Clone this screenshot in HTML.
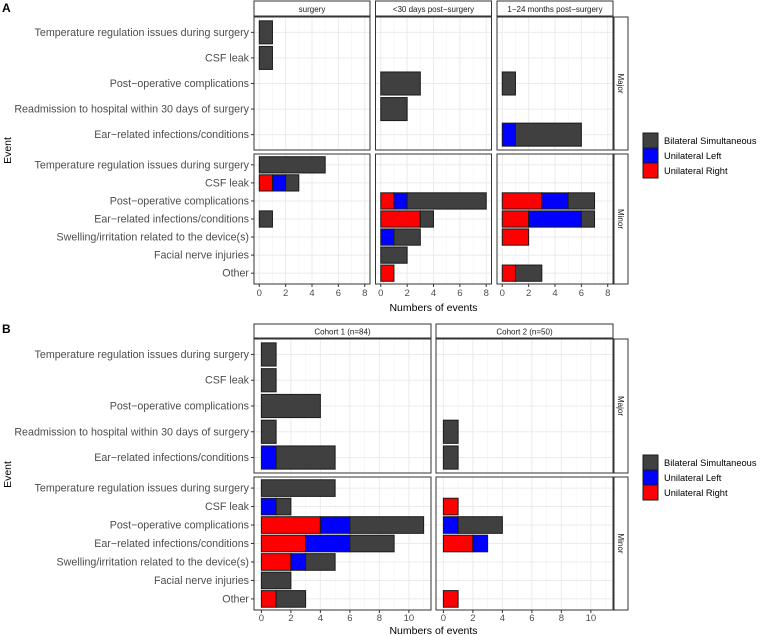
<!DOCTYPE html>
<html><head><meta charset="utf-8"><style>
body{margin:0;background:#fff}
svg{font-family:"Liberation Sans",sans-serif;display:block}
</style></head><body>
<svg id="chart" width="762" height="636" viewBox="0 0 762 636" xmlns="http://www.w3.org/2000/svg"></svg>
<script>
const majorEvents = ["Temperature regulation issues during surgery","CSF leak","Post\u2212operative complications","Readmission to hospital within 30 days of surgery","Ear\u2212related infections/conditions"];
const minorEvents = ["Temperature regulation issues during surgery","CSF leak","Post\u2212operative complications","Ear\u2212related infections/conditions","Swelling/irritation related to the device(s)","Facial nerve injuries","Other"];
const seriesNames = ["Bilateral Simultaneous","Unilateral Left","Unilateral Right"];
const seriesColors = ["#404040","#0000ff","#ff0000"];
const panelsA = ["surgery","<30 days post\u2212surgery","1\u221224 months post\u2212surgery"];
const panelsB = ["Cohort 1 (n=84)","Cohort 2 (n=50)"];
const ticksA = [0,2,4,6,8];
const ticksB = [0,2,4,6,8,10];
// each entry: [right, left, bilateral]
const majorA = [
  [[0,0,1],[0,0,1],[0,0,0],[0,0,0],[0,0,0]],
  [[0,0,0],[0,0,0],[0,0,3],[0,0,2],[0,0,0]],
  [[0,0,0],[0,0,0],[0,0,1],[0,0,0],[0,1,5]]
];
const minorA = [
  [[0,0,5],[1,1,1],[0,0,0],[0,0,1],[0,0,0],[0,0,0],[0,0,0]],
  [[0,0,0],[0,0,0],[1,1,6],[3,0,1],[0,1,2],[0,0,2],[1,0,0]],
  [[0,0,0],[0,0,0],[3,2,2],[2,4,1],[2,0,0],[0,0,0],[1,0,2]]
];
const majorB = [
  [[0,0,1],[0,0,1],[0,0,4],[0,0,1],[0,1,4]],
  [[0,0,0],[0,0,0],[0,0,0],[0,0,1],[0,0,1]]
];
const minorB = [
  [[0,0,5],[0,1,1],[4,2,5],[3,3,3],[2,1,2],[0,0,2],[1,0,2]],
  [[0,0,0],[1,0,0],[0,1,3],[2,1,0],[0,0,0],[0,0,0],[1,0,0]]
];

const svg = document.getElementById('chart');
const NS = "http://www.w3.org/2000/svg";
function mk(tag, attrs, parent){const e=document.createElementNS(NS,tag);for(const k in attrs)e.setAttribute(k,attrs[k]);(parent||svg).appendChild(e);return e;}
function txt(s, attrs){const e=mk('text',attrs);e.textContent=s;return e;}

function drawFigure(cfg){
  const {panels, ticks, xmin, xmax, px, pw, majorTop, majorBot, minorTop, minorBot, stripTop, majorData, minorData, xtickY, titleY, legendTop, prefix} = cfg;
  const rows = [[majorEvents, majorTop, majorBot, majorData, "Major"],[minorEvents, minorTop, minorBot, minorData, "Minor"]];
  panels.forEach((pn, pi) => {
    const x0 = px[pi];
    const sx = v => x0 + (v - xmin) / (xmax - xmin) * pw;
    const s = mk('rect',{x:x0,y:stripTop,width:pw,height:majorTop-stripTop-1,fill:'#fff',stroke:'#333','stroke-width':1});
    
    
    const st = txt(pn,{x:x0+pw/2,y:(stripTop+majorTop)/2+3,'text-anchor':'middle','font-size':8,fill:'#1a1a1a'});
    
    
    rows.forEach(([events, top, bot, data, grp]) => {
      const n = events.length;
      const bw = (bot - top) / (n + 0.2);
      const sy = i => top + bw*0.6 + i*bw;
      mk('rect',{x:x0,y:top,width:pw,height:bot-top,fill:'#fff'});
      for(let v=Math.ceil(xmin); v<=xmax; v++){
        mk('line',{x1:sx(v),x2:sx(v),y1:top,y2:bot,stroke:v%2? '#f2f2f2':'#ebebeb','stroke-width':v%2?0.5:1});
      }
      events.forEach((ev,i)=>mk('line',{x1:x0,x2:x0+pw,y1:sy(i),y2:sy(i),stroke:'#ebebeb','stroke-width':1}));
      data[pi].forEach((vals, i) => {
        let acc = 0;
        const order = [2,1,0];
        vals.forEach((v, k) => {
          if(v<=0) return;
          const r = mk('rect',{x:sx(acc),y:sy(i)-bw*0.45,width:sx(acc+v)-sx(acc),height:bw*0.9,fill:seriesColors[order[k]],stroke:'#1a1a1a','stroke-width':1});
          
          
          acc += v;
        });
      });
      const b = mk('rect',{x:x0,y:top,width:pw,height:bot-top,fill:'none',stroke:'#333','stroke-width':1});
      
      
      if(pi===0){
        events.forEach((ev,i)=>{
          mk('line',{x1:x0-3,x2:x0,y1:sy(i),y2:sy(i),stroke:'#333'});
          const t = txt(ev,{x:x0-5,y:sy(i)+3.5,'text-anchor':'end','font-size':10.7,fill:'#4d4d4d'});
          
          
        });
      }
      if(pi===panels.length-1){
        const rx = x0+pw+1;
        mk('rect',{x:rx,y:top,width:14,height:bot-top,fill:'#fff',stroke:'#333','stroke-width':1});
        const cy=(top+bot)/2;
        const g = txt(grp,{x:rx+7,y:cy,'text-anchor':'middle','font-size':8,fill:'#1a1a1a',transform:`rotate(90 ${rx+7} ${cy}) translate(0 3)`});
        
        
      }
    });
    ticks.forEach(v=>{
      mk('line',{x1:sx(v),x2:sx(v),y1:minorBot,y2:minorBot+3,stroke:'#333'});
      const t = txt(String(v),{x:sx(v),y:xtickY,'text-anchor':'middle','font-size':9.5,fill:'#4d4d4d'});
      
      
    });
  });
  const midx = (px[0] + px[px.length-1] + pw)/2;
  const xt = txt("Numbers of events",{x:midx,y:titleY,'text-anchor':'middle','font-size':10.5,fill:'#000'});
  
  
  const ey = (majorTop+minorBot)/2;
  const yt = txt("Event",{x:11,y:ey,'text-anchor':'middle','font-size':10.5,fill:'#000',transform:`rotate(-90 11 ${ey})`});
  
  
  seriesNames.forEach((nm,i)=>{
    const y = legendTop + i*15;
    const k = mk('rect',{x:643,y:y,width:15,height:15,fill:seriesColors[i],stroke:'#1a1a1a','stroke-width':1});
    
    
    const t = txt(nm,{x:664,y:y+11,'font-size':9.3,fill:'#000'});
    
    
  });
}

drawFigure({panels:panelsA,ticks:ticksA,xmin:-0.4,xmax:8.4,px:[254,375.5,497],pw:116,
  stripTop:1,majorTop:17,majorBot:150,minorTop:154,minorBot:284,majorData:majorA,minorData:minorA,
  xtickY:296,titleY:311,legendTop:133,prefix:'a'});
drawFigure({panels:panelsB,ticks:ticksB,xmin:-0.5,xmax:11.5,px:[254,436],pw:177,
  stripTop:324,majorTop:339,majorBot:473,minorTop:477,minorBot:610,majorData:majorB,minorData:minorB,
  xtickY:621,titleY:634,legendTop:455,prefix:'b'});

const la = txt("A",{x:2,y:12,'font-size':12,'font-weight':'bold',fill:'#000'});


const lb = txt("B",{x:2,y:333,'font-size':12,'font-weight':'bold',fill:'#000'});


</script>
</body></html>
